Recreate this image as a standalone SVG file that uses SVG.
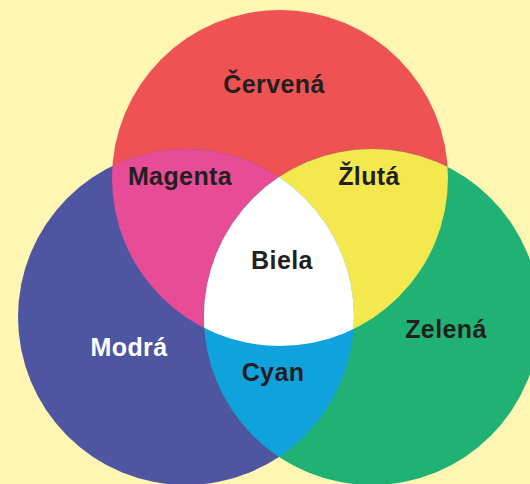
<svg xmlns="http://www.w3.org/2000/svg" width="530" height="484" viewBox="0 0 530 484">
<style>
.lbl{font-family:"Liberation Sans",Arial,sans-serif;font-weight:bold;font-size:25px;letter-spacing:0.4px;fill:#231F20;text-anchor:middle}
.wht{fill:#FFFFFF}
</style>
<defs>
<circle id="cR" cx="280" cy="178" r="168"/>
<circle id="cB" cx="186" cy="317" r="168"/>
<circle id="cG" cx="372" cy="317" r="168"/>
<clipPath id="clipR"><use href="#cR"/></clipPath>
<clipPath id="clipB"><use href="#cB"/></clipPath>
<clipPath id="clipG"><use href="#cG"/></clipPath>
</defs>
<rect width="530" height="484" fill="#FEF6B2"/>
<g id="cervena"><use href="#cR" fill="#EE5253"/></g>
<g id="modra"><use href="#cB" fill="#4E56A2"/></g>
<g id="zelena"><use href="#cG" fill="#1FB274"/></g>
<g id="magenta"><use href="#cB" fill="#E84C97" clip-path="url(#clipR)"/></g>
<g id="zluta"><use href="#cG" fill="#F3E84E" clip-path="url(#clipR)"/></g>
<g id="cyan"><use href="#cG" fill="#10A2DD" clip-path="url(#clipB)"/></g>
<g id="biela"><g clip-path="url(#clipR)"><use href="#cG" fill="#FFFFFF" clip-path="url(#clipB)"/></g></g>
<g id="labels">
<text class="lbl" x="274" y="93">Červená</text>
<text class="lbl" x="180" y="185">Magenta</text>
<text class="lbl" x="369" y="185">Žlutá</text>
<text class="lbl" x="282" y="269">Biela</text>
<text class="lbl wht" x="129" y="356">Modrá</text>
<text class="lbl" x="446" y="338">Zelená</text>
<text class="lbl" x="273" y="381">Cyan</text>
</g>
</svg>
